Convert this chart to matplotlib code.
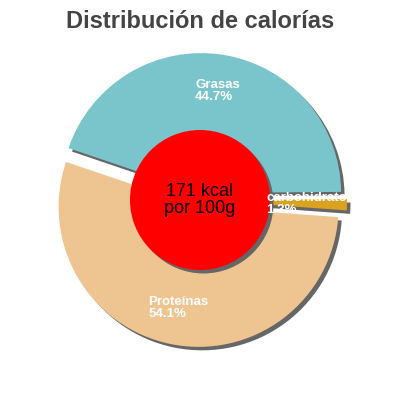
import numpy as np
import matplotlib
matplotlib.use("Agg")
import matplotlib.pyplot as plt
import matplotlib.patheffects as pe
from matplotlib.patches import Circle

labels = ["Grasas", "Proteínas", "carbohidratos"]
values = [44.7, 54.1, 1.3]
colors = ["#7ac4cc", "#eec591", "#d9a21f"]
center_text = "171 kcal\npor 100g"
title = "Distribución de calorías"

plt.rcParams['font.family'] = ['Liberation Sans', 'DejaVu Sans']

fig = plt.figure(figsize=(4, 4), dpi=100)
ax = fig.add_axes([0, 0, 1, 1])

cx, cy, R = 200, 200, 140
shadow = [pe.SimplePatchShadow(offset=(2.5, -2.5), shadow_rgbFace='#666666', alpha=1), pe.Normal()]

# explode is in data units here (pixels)
wedges, _ = ax.pie(values, colors=colors, startangle=0.5, counterclock=True,
                   center=(cx, cy), radius=R, explode=[7, 7, 7],
                   wedgeprops=dict(linewidth=0), normalize=True, frame=True)
for w in wedges:
    w.set_path_effects(shadow)
ax.set_xlim(0, 400)
ax.set_ylim(0, 400)
ax.set_aspect('equal')
ax.axis('off')

# label positions from wedge angles
for w, lab, v in zip(wedges, labels, values):
    mid = np.deg2rad((w.theta1 + w.theta2) / 2)
    x = cx + 110 * np.cos(mid)
    y = cy + 110 * np.sin(mid)
    ax.text(x, y, "%s\n%.1f%%" % (lab, v), color='white', fontsize=9.5,
            fontweight='bold', ha='center', va='center', multialignment='left',
            linespacing=1.0, zorder=5)

hole = Circle((cx, cy), 70, facecolor='#ff0000', edgecolor='none', zorder=4)
hole.set_path_effects(shadow)
ax.add_patch(hole)
ax.text(cx, cy, center_text, ha='center', va='center', fontsize=13,
        color='black', linespacing=1.0, zorder=6)

ax.text(200, 378, title, ha='center', va='center', fontsize=17,
        fontweight='bold', color='#444444')

fig.savefig("out.png", dpi=100)
